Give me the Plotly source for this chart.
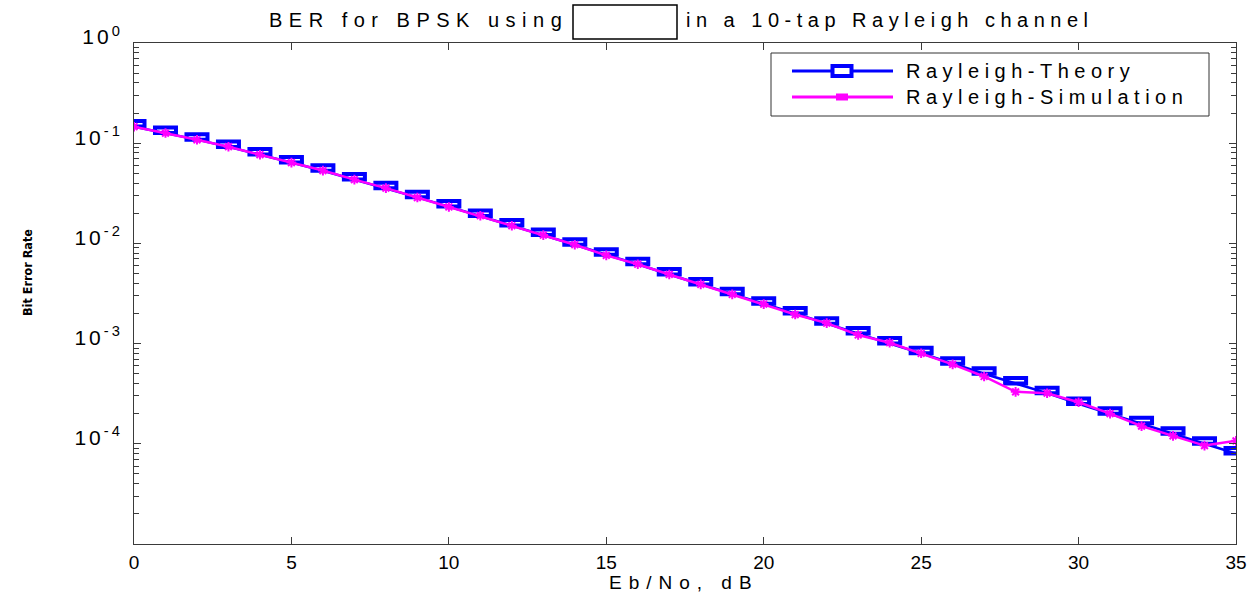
import plotly.graph_objects as go

# Eb/No grid (dB) and bit error rates for BPSK over a 10-tap Rayleigh channel
ebno_db = list(range(36))
ber_theory = [0.1464, 0.1267, 0.1085, 0.0919, 0.0771, 0.0642, 0.0530, 0.0435,
              0.0355, 0.0288, 0.0233, 0.0188, 0.0151, 0.0121, 0.0097, 0.0077,
              0.0062, 0.0049, 0.0039, 0.0031, 0.0025, 0.0020, 0.00158, 0.00126,
              0.00100, 0.00080, 0.00063, 0.00050, 0.00040, 0.00032, 0.00025,
              0.00020, 0.00016, 0.000126, 0.000100, 0.000080]
ber_sim = [0.1460, 0.1262, 0.1082, 0.0922, 0.0768, 0.0640, 0.0533, 0.0433,
           0.0356, 0.0287, 0.0231, 0.0189, 0.0150, 0.0121, 0.0097, 0.0076,
           0.0062, 0.0049, 0.0039, 0.0031, 0.00248, 0.00195, 0.00160, 0.00122,
           0.00102, 0.00080, 0.00062, 0.00047, 0.00033, 0.00032, 0.00026,
           0.00020, 0.00015, 0.00012, 0.000096, 0.000107]

x_ticks = [0, 5, 10, 15, 20, 25, 30, 35]
y_ticks = [1, 1e-1, 1e-2, 1e-3, 1e-4]
y_tick_exp = ["0", "-1", "-2", "-3", "-4"]

series_names = ["Rayleigh-Theory", "Rayleigh-Simulation"]
title_left = "BER for BPSK using"
title_right = "in a 10-tap Rayleigh channel"
x_title = "Eb/No, dB"
y_title = "Bit Error Rate"

BLUE = "#0000FF"
MAGENTA = "#FF00FF"
FONT = "Liberation Sans, Arial, sans-serif"
NARROW = "Liberation Sans Narrow, DejaVu Sans Condensed, Liberation Sans, sans-serif"

W, H = 1260, 595
L, R, T, B = 134, 1236, 43, 544


def px(x):
    return (x - L) / (R - L)


def py(y):
    return (B - y) / (B - T)


def wide(text, ls):
    return f'<span style="letter-spacing:{ls}px">{text}</span>'


fig = go.Figure()

fig.add_trace(go.Scatter(
    x=ebno_db, y=ber_theory, mode="lines", name=series_names[0],
    line=dict(color=BLUE, width=2.5), showlegend=False,
))
fig.add_trace(go.Scatter(
    x=ebno_db, y=ber_sim, mode="lines+markers", name=series_names[1],
    line=dict(color=MAGENTA, width=2.5),
    marker=dict(symbol="asterisk-open", size=8,
                line=dict(color=MAGENTA, width=2)),
    showlegend=False,
))

shapes = []
# wide rectangular markers on the theory curve
for xv, yv in zip(ebno_db, ber_theory):
    shapes.append(dict(
        type="rect", xref="x", yref="y", xsizemode="pixel", ysizemode="pixel",
        xanchor=xv, yanchor=yv, x0=-10.5, x1=10.5, y0=-5.5, y1=5.5,
        line=dict(color=BLUE, width=4), fillcolor="rgba(0,0,0,0)",
        layer="below",
    ))

# legend frame and samples
shapes.append(dict(type="rect", xref="paper", yref="paper",
                   x0=px(771), x1=px(1209), y0=py(116), y1=py(53),
                   line=dict(color="#333333", width=1), fillcolor="white",
                   layer="above"))
shapes.append(dict(type="line", xref="paper", yref="paper",
                   x0=px(792), x1=px(893), y0=py(71), y1=py(71),
                   line=dict(color=BLUE, width=3), layer="above"))
shapes.append(dict(type="rect", xref="paper", yref="paper",
                   x0=px(832.5), x1=px(851.5), y0=py(76), y1=py(66),
                   line=dict(color=BLUE, width=4), fillcolor="white",
                   layer="above"))
shapes.append(dict(type="line", xref="paper", yref="paper",
                   x0=px(792), x1=px(893), y0=py(97), y1=py(97),
                   line=dict(color=MAGENTA, width=3), layer="above"))
shapes.append(dict(type="rect", xref="paper", yref="paper",
                   x0=px(837), x1=px(847), y0=py(99.5), y1=py(94.5),
                   line=dict(color=MAGENTA, width=2), fillcolor=MAGENTA,
                   layer="above"))

# blank box inside the title
shapes.append(dict(type="rect", xref="paper", yref="paper",
                   x0=px(573), x1=px(677), y0=py(39), y1=py(5),
                   line=dict(color="black", width=1.5), fillcolor="white"))

annotations = [
    dict(text=wide(title_left, 6.5), x=px(570), y=py(20), xref="paper",
         yref="paper", xanchor="right", yanchor="middle", showarrow=False,
         font=dict(family=FONT, size=20, color="black")),
    dict(text=wide(title_right, 5.5), x=px(684), y=py(20), xref="paper",
         yref="paper", xanchor="left", yanchor="middle", showarrow=False,
         font=dict(family=FONT, size=20, color="black")),
    dict(text=wide(x_title, 7), x=px(684), y=py(582), xref="paper",
         yref="paper", xanchor="center", yanchor="middle", showarrow=False,
         font=dict(family=FONT, size=19, color="black")),
    dict(text=f"<b>{y_title}</b>", x=px(27), y=py(273), xref="paper",
         yref="paper", xanchor="center", yanchor="middle", showarrow=False,
         textangle=-90, font=dict(family=NARROW, size=12.5, color="black")),
    dict(text=wide(series_names[0], 5.5), x=px(904), y=py(71), xref="paper",
         yref="paper", xanchor="left", yanchor="middle", showarrow=False,
         font=dict(family=FONT, size=20, color="black")),
    dict(text=wide(series_names[1], 5.5), x=px(904), y=py(97), xref="paper",
         yref="paper", xanchor="left", yanchor="middle", showarrow=False,
         font=dict(family=FONT, size=20, color="black")),
]

axis_color = "#3a3a3a"

fig.update_layout(
    width=W, height=H,
    margin=dict(l=L, r=W - R, t=T, b=H - B, pad=0),
    paper_bgcolor="white", plot_bgcolor="white",
    showlegend=False,
    shapes=shapes, annotations=annotations,
    font=dict(family=FONT, color="black"),
)

fig.update_xaxes(
    range=[0, 35], tickvals=x_ticks,
    ticktext=[str(v) for v in x_ticks],
    ticks="inside", ticklen=7, tickcolor=axis_color,
    showline=True, linecolor=axis_color, linewidth=1, mirror="ticks",
    showgrid=False, zeroline=False, ticklabelstandoff=1,
    tickfont=dict(family=FONT, size=19, color="black"),
)
fig.update_yaxes(
    type="log", range=[-5, 0], tickvals=y_ticks,
    ticktext=[wide(f"10<sup>{e}</sup>", 3) for e in y_tick_exp],
    ticks="inside", ticklen=7, tickcolor=axis_color,
    minor=dict(ticks="inside", ticklen=5, tickcolor=axis_color, dtick="D1",
               showgrid=False),
    showline=True, linecolor=axis_color, linewidth=1, mirror="ticks",
    showgrid=False, zeroline=False, ticklabelshift=-6, ticklabelstandoff=6,
    tickfont=dict(family=FONT, size=21, color="black"),
)

fig.write_html("out.html")
